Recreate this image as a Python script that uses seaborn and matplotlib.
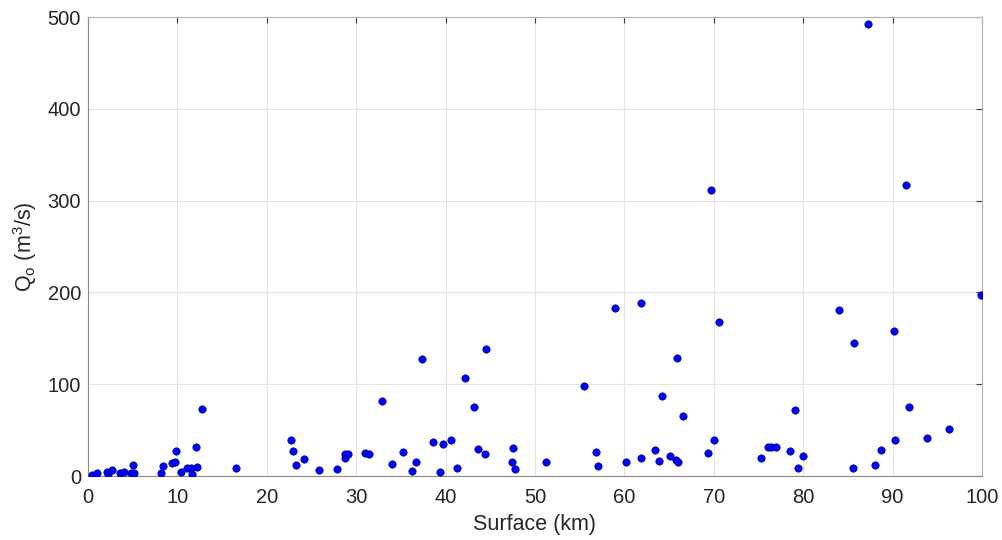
import pandas as pd
import matplotlib.pyplot as plt
import seaborn as sns

#-------------DATOS-------------
surface_km = [0.49, 1.05, 2.15, 2.23, 2.64, 3.57, 4.04, 4.83, 5.19, 5.0,
              8.18, 8.44, 9.39, 9.69, 9.86, 10.40, 11.12, 11.49, 11.65, 12.11,
              12.22, 12.78, 16.52, 22.76, 22.90, 23.32, 24.16, 25.81, 27.89, 28.72,
              28.75, 29.05, 31.02, 31.43, 32.86, 34.04, 35.21, 36.28, 36.69, 37.40,
              38.63, 39.41, 39.68, 40.65, 41.25, 42.14, 43.15, 43.63, 44.38, 44.49,
              47.55, 47.47, 47.81, 51.21, 55.46, 56.84, 57.03, 59.0, 60.19, 61.84,
              61.84, 63.41, 63.89, 64.22, 65.12, 65.82, 65.98, 65.94, 66.54, 69.40,
              69.67, 70.04, 70.64, 75.34, 76.12, 76.42, 76.98, 78.55, 79.14, 79.37,
              79.93, 84.06, 85.60, 85.68, 87.20, 88.03, 88.76, 90.11, 90.30, 91.45,
              91.83, 93.91, 96.26, 99.92]
q0 = [1.6, 3.3, 4.6, 1.8, 6.3, 3.6, 4.1, 2.9, 2.9, 12.3,
      3.6, 11.2, 14.7, 15.0, 27.5, 4.7, 8.5, 8.9, 2.7, 31.3,
      10.1, 72.6, 8.7, 38.8, 27.5, 12.3, 18.8, 6.3, 7.6, 19.9,
      24.3, 24.3, 24.8, 23.6, 81.6, 13.4, 26.1, 5.8, 15.6, 127.3,
      37.0, 4.7, 34.5, 39.2, 8.4, 106.4, 74.8, 29.4, 23.6, 138.2,
      30.8, 15.6, 7.3, 14.9, 98.3, 26.1, 10.9, 182.8, 15.2, 188.6,
      19.3, 28.3, 16.0, 87.4, 21.4, 17.4, 14.9, 128.4, 65.6, 24.7,
      312.0, 38.8, 167.9, 19.9, 31.2, 31.6, 31.9, 27.5, 72.1, 8.7,
      21.8, 180.6, 9.0, 145.0, 492.9, 12.3, 28.3, 157.5, 38.8, 317.4,
      75.1, 41.7, 50.8, 197.7]
x_ticks = [0, 10, 20, 30, 40, 50, 60, 70, 80, 90, 100]
y_ticks = [0, 100, 200, 300, 400, 500]

df = pd.DataFrame({"surface": surface_km, "q0": q0})

#-------------ESTILO-------------
sns.set_style("white")
plt.rcParams["font.family"] = ["Liberation Sans", "DejaVu Sans"]

fig = plt.figure(figsize=(10.03, 5.4), dpi=100)
ax = fig.add_axes([0.0877, 0.1185, 0.8913, 0.85])

#-------------GRÁFICO-------------
sns.scatterplot(data=df, x="surface", y="q0", ax=ax, color="#0000ff",
                edgecolor="#00007a", linewidth=0.5, s=28, zorder=3)

ax.set_xlim(0, 100)
ax.set_ylim(0, 500)
ax.set_xticks(x_ticks)
ax.set_yticks(y_ticks)
ax.grid(True, color="#e3e3e3", linewidth=0.8)
ax.set_axisbelow(True)

for lado in ["left", "bottom"]:
    ax.spines[lado].set_color("#8a8a8a")
for lado in ["top", "right"]:
    ax.spines[lado].set_color("#b5b5b5")
for sp in ax.spines.values():
    sp.set_linewidth(0.8)

ax.tick_params(direction="in", length=4, width=0.8, color="#404040",
               top=True, right=True, labelsize=14.5, labelcolor="#262626")
ax.tick_params(axis="x", pad=8.5)
ax.tick_params(axis="y", pad=5)

ax.set_xlabel("Surface (km)", fontsize=15.5, color="#262626", labelpad=5)
ax.set_ylabel(r"Q$_\mathregular{o}$ (m$^\mathregular{3}$/s)", fontsize=15.5,
              color="#262626", labelpad=6)

plt.savefig("out.png", dpi=100)
